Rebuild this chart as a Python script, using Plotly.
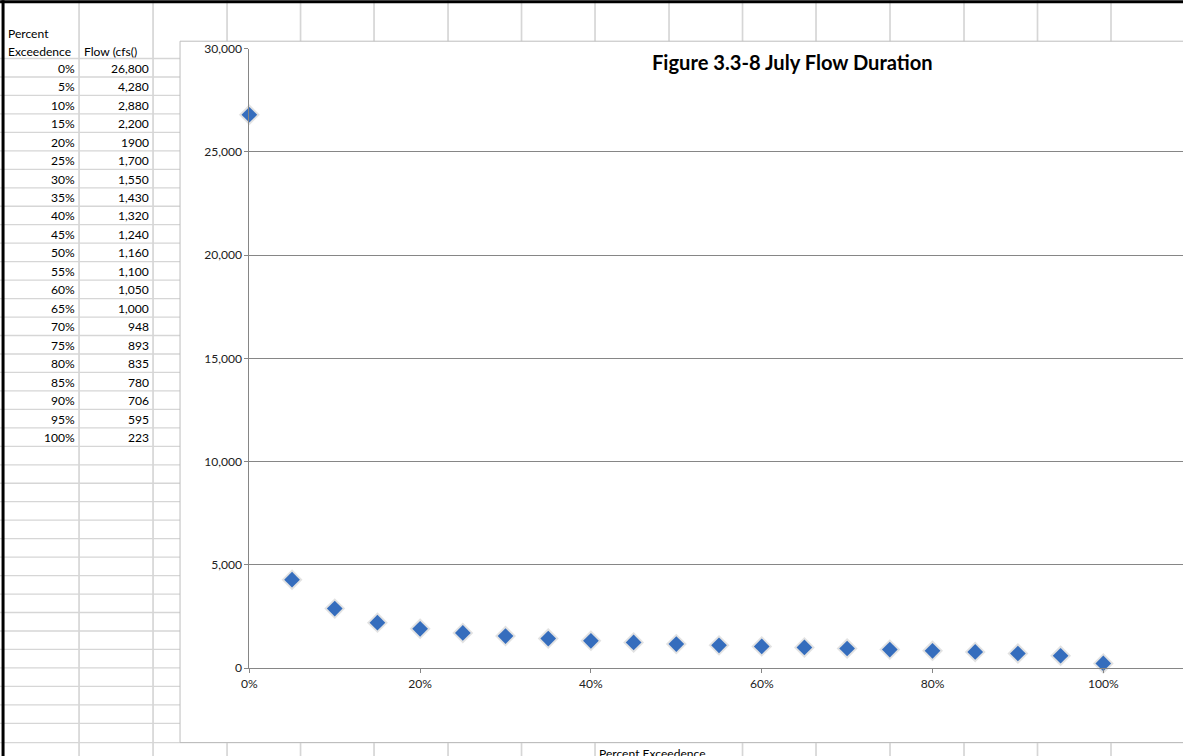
import plotly.graph_objects as go

# Flow-duration table (July)
pct_labels = ["0%", "5%", "10%", "15%", "20%", "25%", "30%", "35%", "40%", "45%", "50%",
              "55%", "60%", "65%", "70%", "75%", "80%", "85%", "90%", "95%", "100%"]
exceedence = [0.00, 0.05, 0.10, 0.15, 0.20, 0.25, 0.30, 0.35, 0.40, 0.45, 0.50,
              0.55, 0.60, 0.65, 0.70, 0.75, 0.80, 0.85, 0.90, 0.95, 1.00]
flow_cfs = [26800, 4280, 2880, 2200, 1900, 1700, 1550, 1430, 1320, 1240, 1160,
            1100, 1050, 1000, 948, 893, 835, 780, 706, 595, 223]
flow_labels = ["26,800", "4,280", "2,880", "2,200", "1900", "1,700", "1,550", "1,430",
               "1,320", "1,240", "1,160", "1,100", "1,050", "1,000", "948", "893",
               "835", "780", "706", "595", "223"]

y_ticks = [0, 5000, 10000, 15000, 20000, 25000, 30000]
x_ticks = [0.0, 0.2, 0.4, 0.6, 0.8, 1.0]

# Layout is described in sheet pixels (1183 x 756 view).  The figure sits inside
# the page body's 8px margin, and the page is shown at 1183/1191 x 756/772.
FW, FH = 1183, 756
OFF = 8
SX, SY = 1183 / 1191, 756 / 772


def fx(px):
    return (px / SX - OFF) / FW


def fy(py):
    return 1 - (py / SY - OFF) / FH


def fs(size):
    return size / SX


# worksheet geometry (sheet pixels)
ROW0 = 58.3          # bottom of the header row
ROW_H = 18.45
COL_LINES = [79, 153]
SHEET_COLS = [227, 300.5, 374, 448, 521.5, 595, 669, 742.5, 816, 890, 964, 1037.5, 1111]
CH_L, CH_T, CH_B = 180, 41, 741.7   # embedded chart frame
X_ZERO, X_FULL = 249.3, 1103.3      # 0% and 100% positions
Y_ZERO, Y_TOP = 667.3, 48.5         # 0 and 30,000 positions
VIEW_W, VIEW_H = 1183, 756

CELL = "#d6d6d6"
AXIS = "#868686"
FONT = "Lato"

fig = go.Figure()

# soft halo behind the markers
fig.add_trace(go.Scatter(
    x=exceedence, y=flow_cfs, mode="markers", cliponaxis=False, hoverinfo="skip",
    marker=dict(symbol="diamond", size=fs(16), color="rgba(150,150,150,0.28)",
                line=dict(width=0)),
    showlegend=False))
fig.add_trace(go.Scatter(
    x=exceedence, y=flow_cfs, mode="markers", cliponaxis=False, name="Flow (cfs()",
    marker=dict(symbol="diamond", size=fs(12), color="#356dbd", line=dict(width=0)),
    showlegend=False))

shapes = []


def line(x0, y0, x1, y1, color=CELL, width=1.3):
    shapes.append(dict(type="line", xref="paper", yref="paper", layer="below",
                       x0=fx(x0), y0=fy(y0), x1=fx(x1), y1=fy(y1),
                       line=dict(color=color, width=width)))


def block(x0, y0, x1, y1, color):
    shapes.append(dict(type="rect", xref="paper", yref="paper", layer="above",
                       x0=fx(x0), y0=fy(y1), x1=fx(x1), y1=fy(y0),
                       line=dict(width=0), fillcolor=color))


# row lines left of the chart, and the row line along the chart bottom
k = 0
while True:
    yy = ROW0 + ROW_H * k
    if yy > CH_B - 2:
        break
    line(0, yy, CH_L, yy)
    k += 1
line(0, CH_B, VIEW_W + 10, CH_B)

# column lines
for cx in COL_LINES:
    line(cx, 0, cx, VIEW_H + 10, width=1.7)
for cx in SHEET_COLS:
    line(cx, 0, cx, CH_T, width=1.7)
    if cx != 669:
        line(cx, CH_B, cx, VIEW_H + 10, width=1.7)

# chart frame
shapes.append(dict(type="rect", xref="paper", yref="paper", layer="below",
                   x0=fx(CH_L), y0=fy(CH_B), x1=fx(VIEW_W + 10), y1=fy(CH_T),
                   line=dict(color="#bdbdbd", width=1), fillcolor="rgba(0,0,0,0)"))

# heavy sheet border along the top and left edges
block(0, 0, VIEW_W + 10, 3, "black")
block(1.5, 0, 4.5, VIEW_H + 10, "black")

annotations = []


def text(s, x, y, anchor="left", size=12, bold=False):
    annotations.append(dict(
        text=f"<b>{s}</b>" if bold else s, xref="paper", yref="paper",
        x=fx(x), y=fy(y), xanchor=anchor, yanchor="middle", showarrow=False,
        font=dict(family=FONT, size=fs(size), color="#000000")))


# table header and cells
text("Percent", 6, 33)
text("Exceedence", 6, 51)
text("Flow (cfs()", 82, 51)
for i, (p, f) in enumerate(zip(pct_labels, flow_labels)):
    cy = ROW0 + ROW_H * (i + 0.5) + 0.5
    text(p, 76.5, cy, anchor="right")
    text(f, 150.5, cy, anchor="right")

# chart title and the axis caption typed into the sheet below the chart
text("Figure 3.3-8 July Flow Duration", 792, 62, anchor="center", size=20, bold=True)
text("Percent Exceedence", 597, 752.5)

x_dom0 = fx(X_ZERO)

fig.update_layout(
    width=FW, height=FH, autosize=False,
    margin=dict(l=0, r=0, t=0, b=0, pad=0),
    paper_bgcolor="white", plot_bgcolor="rgba(0,0,0,0)",
    font=dict(family=FONT, size=fs(12), color="#222222"),
    shapes=shapes, annotations=annotations,
    xaxis=dict(domain=[x_dom0, 1], range=[0, (1 - x_dom0) * FW * SX / (X_FULL - X_ZERO)],
               tickvals=x_ticks, tickformat=".0%", showgrid=False, zeroline=False,
               showline=True, linecolor=AXIS, linewidth=1,
               ticks="outside", ticklen=4, tickcolor=AXIS, tickwidth=1,
               ticklabelstandoff=0,
               tickfont=dict(family=FONT, size=fs(12), color="#222222"),
               fixedrange=True),
    yaxis=dict(domain=[fy(Y_ZERO), fy(Y_TOP)], range=[0, 30000], tickvals=y_ticks,
               tickformat=",", showgrid=True, gridcolor=AXIS, gridwidth=1,
               zeroline=False, showline=True, linecolor=AXIS, linewidth=1,
               ticks="outside", ticklen=4, tickcolor=AXIS, tickwidth=1,
               ticklabelstandoff=0,
               tickfont=dict(family=FONT, size=fs(12), color="#222222"),
               fixedrange=True),
    showlegend=False,
)

fig.write_html("out.html", config={"displayModeBar": False})
